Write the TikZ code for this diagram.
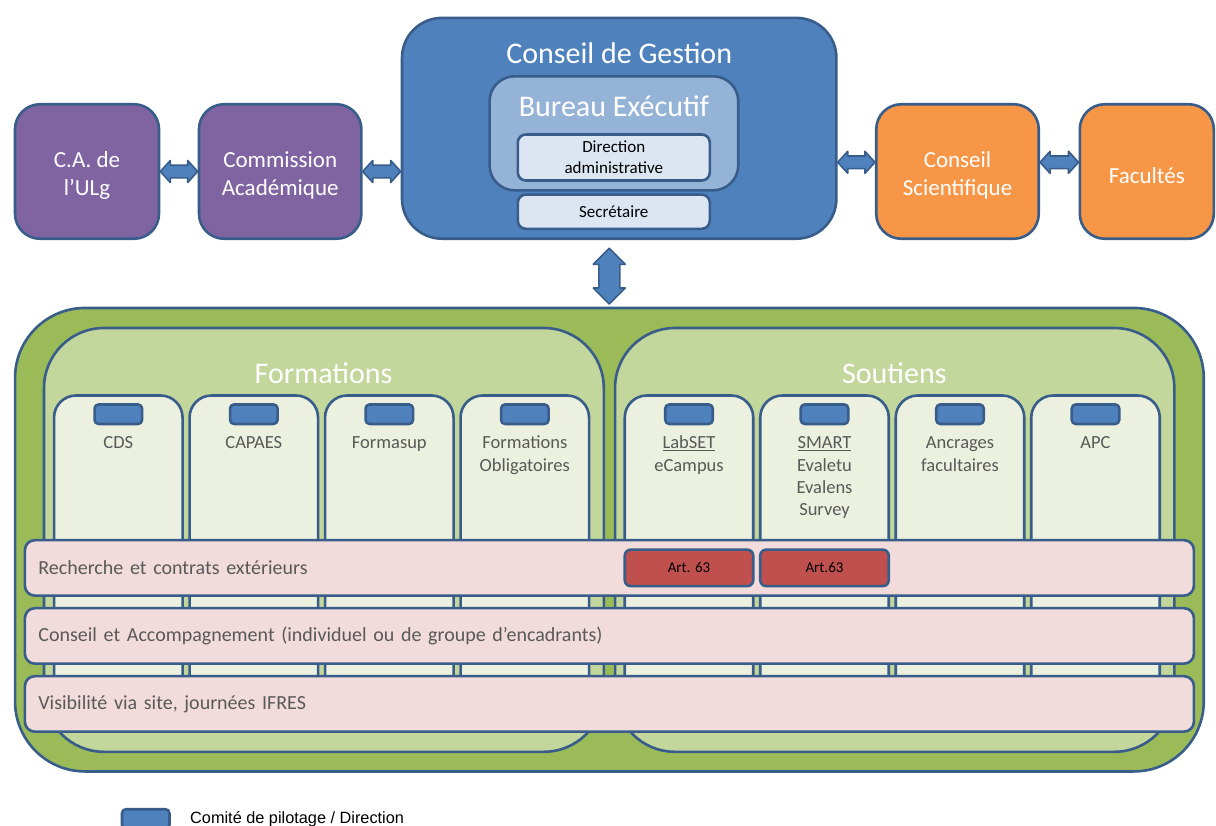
\documentclass[tikz,border=0pt]{standalone}
\usepackage{fontspec}
\setmainfont{Carlito}
\newfontfamily\legendfont{Liberation Sans}
\usetikzlibrary{calc}
\definecolor{bord}{HTML}{385D8A}
\definecolor{blueF}{HTML}{4F81BD}
\definecolor{bureau}{HTML}{95B3D7}
\definecolor{paleblue}{HTML}{DCE6F2}
\definecolor{purple}{HTML}{8064A2}
\definecolor{orange}{HTML}{F79646}
\definecolor{greenD}{HTML}{9BBB59}
\definecolor{greenM}{HTML}{C3D69B}
\definecolor{greenL}{HTML}{EBF1DE}
\definecolor{pink}{HTML}{F2DCDB}
\definecolor{redA}{HTML}{C0504D}
\definecolor{txtgray}{HTML}{595959}
\newcommand{\tstrut}{\rule{0pt}{23.5pt}}
% horizontal double block arrow between two points at the same height
\newcommand{\hdarrow}[2]{\draw[blockarr] let \p1=(#1),\p2=(#2) in (\x1,\y1) -- (\x1+10pt,\y1+11pt) -- (\x1+10pt,\y1+6.3pt) -- (\x2-10pt,\y1+6.3pt) -- (\x2-10pt,\y1+11pt) -- (\x2,\y1) -- (\x2-10pt,\y1-11pt) -- (\x2-10pt,\y1-6.3pt) -- (\x1+10pt,\y1-6.3pt) -- (\x1+10pt,\y1-11pt) -- cycle;}
\begin{document}
\begin{tikzpicture}[x=1pt,y=-1pt,line join=round]
	\tikzset{box/.style={draw=bord,line width=2.6pt,inner sep=0pt,align=center},
		topbox/.style={box,text=white,font=\fontsize{23}{28}\selectfont,minimum height=134.5pt,rounded corners=25pt},
		title/.style={text=white,font=\fontsize{30}{36}\selectfont,anchor=base,inner sep=0pt},
		inbox/.style={box,fill=paleblue,font=\fontsize{17}{21}\selectfont,minimum width=192pt,rounded corners=8pt},
		colbox/.style={box,fill=greenL,minimum width=128.5pt,minimum height=331pt,rounded corners=22pt},
		coltxt/.style={text=txtgray,font=\fontsize{18.5}{22.3}\selectfont,anchor=north,align=center,inner sep=0pt},
		pilot/.style={box,fill=blueF,minimum width=47.5pt,minimum height=19.5pt,rounded corners=4pt},
		band/.style={box,fill=pink,text=txtgray,font=\fontsize{20}{24}\selectfont,minimum height=55.5pt,text width=1142pt,inner xsep=13.5pt,align=left,rounded corners=10pt},
		artbox/.style={box,fill=redA,font=\fontsize{15}{18}\selectfont,minimum width=128.5pt,minimum height=36.5pt,rounded corners=6pt},
		blockarr/.style={draw=bord,fill=blueF,line width=1.6pt}}
	\useasboundingbox (0,0) rectangle (1216,825);
	% top row
	\node[topbox,fill=purple,minimum width=144pt] (ca) at (87,171.5) {\tstrut C.A. de\\l’ULg};
	\node[topbox,fill=purple,minimum width=162.4pt] (com) at (280.2,171.5) {\tstrut Commission\\Académique};
	\node[box,fill=blueF,minimum width=434.4pt,minimum height=220.8pt,rounded corners=40pt] (cg) at (619.2,128.3) {};
	\node[title] (cg-t) at (619.2,63.3) {Conseil de Gestion};
	\node[box,fill=bureau,minimum width=248.7pt,minimum height=114pt,rounded corners=25pt] (be) at (613.9,133.3) {};
	\node[title] (be-t) at (613.9,116.5) {Bureau Exécutif};
	\node[inbox,minimum height=46pt] (da) at (613.8,157.5) {Direction\\administrative};
	\node[inbox,minimum height=34.2pt] (sec) at (613.8,211.7) {Secrétaire};
	\node[topbox,fill=orange,minimum width=162.5pt] (cs) at (957.5,171.5) {\tstrut Conseil\\Scientifique};
	\node[topbox,fill=orange,minimum width=134pt] (fac) at (1146.8,171.5) {\tstrut Facultés};
	% arrows
	\coordinate (a3r) at ($(cs.west)+(0,-9.2)$);
	\coordinate (a3l) at (cg.east |- a3r);
	\coordinate (a4l) at (cs.east |- a3r);
	\coordinate (a4r) at (fac.west |- a3r);
	\coordinate (a2r) at (cg.west |- com.east);
	\hdarrow{ca.east}{com.west}
	\hdarrow{com.east}{a2r}
	\hdarrow{a3l}{a3r}
	\hdarrow{a4l}{a4r}
	\coordinate (vtop) at (609.3,248.3);
	\coordinate (vbot) at (609.3,304);
	\draw[blockarr] let \p1=(vtop),\p2=(vbot) in (\x1,\y1) -- (\x1+16pt,\y1-16pt) -- (\x1+10.5pt,\y1-16pt) -- (\x1+10.5pt,\y2+16pt) -- (\x1+16pt,\y2+16pt) -- (\x1,\y2) -- (\x1-16pt,\y2+16pt) -- (\x1-10.5pt,\y2+16pt) -- (\x1-10.5pt,\y1-16pt) -- (\x1-16pt,\y1-16pt) -- cycle;
	% bottom block
	\node[box,fill=greenD,minimum width=1188.7pt,minimum height=463.5pt,rounded corners=70pt] (ifres) at (609.4,539.7) {};
	\node[box,fill=greenM,minimum width=559.8pt,minimum height=423.8pt,rounded corners=60pt] (form) at (323.9,539.9) {};
	\node[box,fill=greenM,minimum width=559.3pt,minimum height=423.8pt,rounded corners=60pt] (sout) at (894.7,539.9) {};
	\node[title] (form-t) at (323.5,383) {Formations};
	\node[title] (sout-t) at (894.3,383) {Soutiens};
	\foreach \x/\n/\t in {118.3/cds/CDS, 253.8/capaes/CAPAES, 389.3/formasup/Formasup, 524.8/oblig/Formations\\Obligatoires, 689/labset/\underline{LabSET}\\eCampus, 824.5/smart/\underline{SMART}\\Evaletu\\Evalens\\Survey, 960/ancr/Ancrages\\facultaires, 1095.5/apc/APC}{
		\node[colbox] (\n) at (\x,561) {};
		\node[pilot] (\n-p) at (\x,414.2) {};
		\node[coltxt] (\n-t) at (\x,433.1) {\strut\t};
	}
	\node[band] (rech) at (609.4,567.9) {Recherche et contrats extérieurs};
	\node[band] (cons) at (609.4,635.9) {Conseil et Accompagnement (individuel ou de groupe d’encadrants)};
	\node[band] (visi) at (609.4,703.9) {Visibilité via site, journées IFRES};
	\node[artbox] (art1) at (labset |- rech) {Art. 63};
	\node[artbox] (art2) at (smart |- rech) {Art.63};
	% legend
	\node[pilot] (leg) at (145.7,819) {};
	\node[anchor=base west,inner sep=0pt,font=\legendfont\fontsize{16.3}{19}\selectfont] (leg-t) at (190,823.5) {Comité de pilotage / Direction};
\end{tikzpicture}
\end{document}
